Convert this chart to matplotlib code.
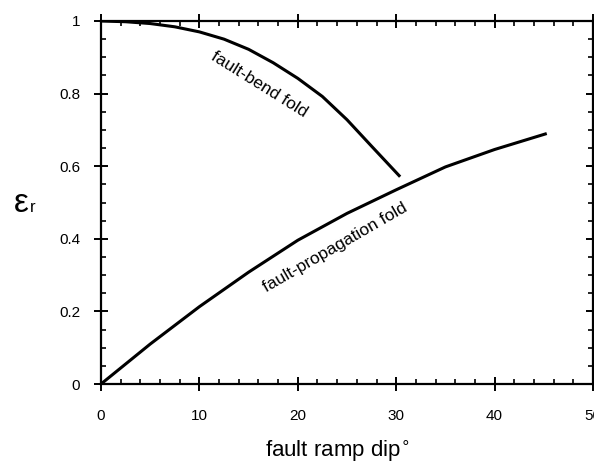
import numpy as np
import matplotlib.pyplot as plt
from matplotlib.ticker import MultipleLocator

plt.rcParams.update({
    "font.family": ["Liberation Sans", "DejaVu Sans"],
    "font.size": 11,
})

# fault-bend fold curve
dip_bend = [0, 2.5, 5, 7.5, 10, 12.5, 15, 17.5, 20, 22.5, 25, 27.5, 30.4]
er_bend = [1.0, 0.998, 0.993, 0.984, 0.97, 0.95, 0.922, 0.885, 0.842, 0.792, 0.728, 0.655, 0.571]

# fault-propagation fold curve
dip_prop = [0, 5, 10, 15, 20, 25, 30, 35, 40, 45.3]
er_prop = [0.0, 0.11, 0.213, 0.308, 0.396, 0.47, 0.535, 0.598, 0.646, 0.69]

x_ticks = [0, 10, 20, 30, 40, 50]
y_ticks = [0, 0.2, 0.4, 0.6, 0.8, 1.0]
y_ticklabels = ["0", "0.2", "0.4", "0.6", "0.8", "1"]

fig = plt.figure(figsize=(5.94, 4.66), dpi=100)
ax = fig.add_axes([101 / 594, 1 - 384 / 466, 492 / 594, 363 / 466])

ax.plot(dip_bend, er_bend, color="black", lw=2.2, solid_capstyle="butt")
ax.plot(dip_prop, er_prop, color="black", lw=2.2, solid_capstyle="butt")

ax.set_xlim(0, 50)
ax.set_ylim(0, 1)
ax.set_xticks(x_ticks)
ax.set_xticklabels([str(v) for v in x_ticks])
ax.set_yticks(y_ticks)
ax.set_yticklabels(y_ticklabels)
ax.xaxis.set_minor_locator(MultipleLocator(2))
ax.yaxis.set_minor_locator(MultipleLocator(0.05))

ax.tick_params(which="major", direction="inout", length=10, width=1.4,
               top=True, right=True)
ax.tick_params(which="minor", direction="in", length=3.6, width=1.2,
               top=True, right=True)
ax.tick_params(axis="x", which="major", pad=13)
ax.tick_params(axis="y", which="major", pad=10)
for s in ax.spines.values():
    s.set_linewidth(1.6)

ax.text(16.1, 0.824, "fault-bend fold", rotation=-32, ha="center", va="center",
        fontsize=12.5)
ax.text(23.8, 0.377, "fault-propagation fold", rotation=30, ha="center",
        va="center", fontsize=12.5)

ax.set_xlabel("fault ramp dip$^{\\circ}$", fontsize=16)
ax.xaxis.set_label_coords(0.48, -0.15)
fig.text(21 / 594, 1 - 203 / 466, "ε", fontsize=24, ha="center", va="center")
fig.text(33 / 594, 1 - 208 / 466, "r", fontsize=12, ha="center", va="center")

fig.savefig("out.png", dpi=100)
